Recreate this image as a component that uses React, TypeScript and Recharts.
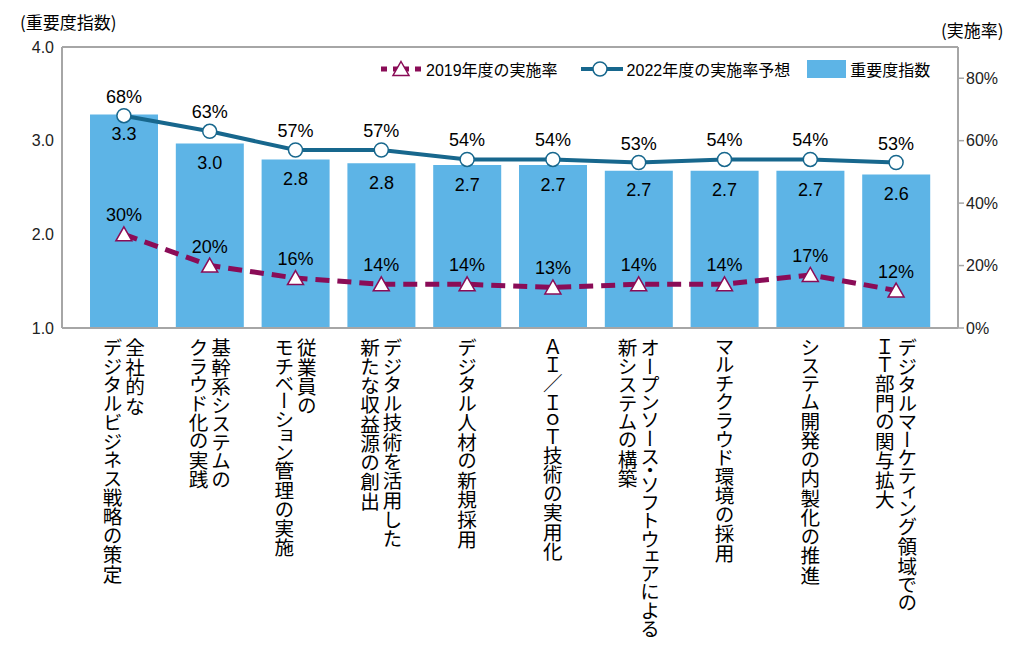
import React from 'react';
import {
  ComposedChart,
  Bar,
  Line,
  XAxis,
  YAxis,
  LabelList,
  Legend,
  ReferenceLine,
} from 'recharts';

// categories: lines of each vertical label, right column first
const categories = [
  '全社的な\nデジタルビジネス戦略の策定',
  '基幹系システムの\nクラウド化の実践',
  '従業員の\nモチベーション管理の実施',
  'デジタル技術を活用した\n新たな収益源の創出',
  'デジタル人材の新規採用',
  'ＡＩ／ＩｏＴ技術の実用化',
  'オープンソース・ソフトウェアによる\n新システムの構築',
  'マルチクラウド環境の採用',
  'システム開発の内製化の推進',
  'デジタルマーケティング領域での\nＩＴ部門の関与拡大',
];
const importance = [3.28, 2.97, 2.8, 2.76, 2.74, 2.74, 2.68, 2.68, 2.68, 2.64];
const rate2019 = [30, 20, 16, 14, 14, 13, 14, 14, 17, 12];
const rate2022 = [68, 63, 57, 57, 54, 54, 53, 54, 54, 53];
const leftTicks = [1, 2, 3, 4];
const rightTicks = [0, 20, 40, 60, 80];

const data = categories.map((name, i) => ({
  name,
  importance: importance[i],
  r2019: rate2019[i],
  r2022: rate2022[i],
}));

const BAR = '#5DB4E6';
const NAVY = '#17678D';
const PLUM = '#8A0C57';
const FRAME = '#A6A6A6';
const FONT = "'Liberation Sans', Arial, 'Noto Sans CJK JP', sans-serif";
const JP = "'Noto Sans CJK JP', sans-serif";

function CategoryTick(props: any) {
  const { x, y, payload } = props;
  const lines: string[] = String(payload.value).split('\n');
  const n = lines.length;
  return (
    <g>
      {lines.map((line, i) => (
        <text
          key={i}
          x={x + ((n - 1) * 22.5) / 2 - i * 22.5}
          y={y + 2}
          fontSize={19.6}
          fontFamily={JP}
          fill="#000"
          style={{ writingMode: 'vertical-rl', fontFeatureSettings: "'vpal'" } as any}
        >
          {line}
        </text>
      ))}
    </g>
  );
}

function TriangleDot(props: any) {
  const { cx, cy } = props;
  if (cx == null || cy == null) return null;
  return (
    <path
      d={`M${cx},${cy - 7.5} L${cx + 8},${cy + 6.5} L${cx - 8},${cy + 6.5} Z`}
      fill="#fff"
      stroke={PLUM}
      strokeWidth={1.5}
    />
  );
}

function CircleDot(props: any) {
  const { cx, cy } = props;
  if (cx == null || cy == null) return null;
  return <circle cx={cx} cy={cy} r={7} fill="#fff" stroke={NAVY} strokeWidth={1.5} />;
}

function LegendBox() {
  const text = { fontSize: 16, fontFamily: FONT, color: '#000', whiteSpace: 'nowrap' as const };
  return (
    <div style={{ display: 'flex', alignItems: 'center', height: 20 }}>
      <svg width={40} height={20}>
        <line x1={0} y1={10} x2={40} y2={10} stroke={PLUM} strokeWidth={5} strokeDasharray="6 6 16 6 6" />
        <path d="M20,2.5 L28,16.5 L12,16.5 Z" fill="#fff" stroke={PLUM} strokeWidth={1.5} />
      </svg>
      <span style={{ ...text, marginLeft: 5 }}>2019年度の実施率</span>
      <svg width={42} height={20} style={{ marginLeft: 23 }}>
        <line x1={0} y1={10} x2={42} y2={10} stroke={NAVY} strokeWidth={4} />
        <circle cx={19} cy={10} r={7} fill="#fff" stroke={NAVY} strokeWidth={1.5} />
      </svg>
      <span style={{ ...text, marginLeft: 4 }}>2022年度の実施率予想</span>
      <svg width={39} height={18} style={{ marginLeft: 17 }}>
        <rect x={0} y={0} width={39} height={18} fill={BAR} />
      </svg>
      <span style={{ ...text, marginLeft: 4 }}>重要度指数</span>
    </div>
  );
}

export default function App() {
  return (
    <div style={{ position: 'relative', width: 1030, height: 647, background: '#fff' }}>
      <style>{'body{margin:0}'}</style>
      <div
        style={{
          position: 'absolute',
          left: 20,
          top: 9,
          fontSize: 17,
          fontFamily: JP,
          color: '#000',
          zIndex: 2,
        }}
      >
        (重要度指数)
      </div>
      <div
        style={{
          position: 'absolute',
          left: 941,
          top: 17,
          fontSize: 17,
          fontFamily: JP,
          color: '#000',
          zIndex: 2,
        }}
      >
        (実施率)
      </div>
      <ComposedChart
        width={1030}
        height={647}
        data={data}
        margin={{ top: 47, right: 0, bottom: 0, left: 0 }}
        barCategoryGap="10.5%"
      >
        <XAxis
          dataKey="name"
          height={319}
          interval={0}
          padding={{ left: 19, right: 19 }}
          tickLine={false}
          axisLine={{ stroke: FRAME, strokeWidth: 2 }}
          tick={<CategoryTick />}
        />
        <YAxis
          yAxisId="left"
          width={62}
          domain={[1, 4]}
          ticks={leftTicks}
          tickFormatter={(v: number) => v.toFixed(1)}
          tickLine={false}
          axisLine={{ stroke: FRAME, strokeWidth: 2 }}
          tick={{ fontSize: 16, fontFamily: FONT, fill: '#222' }}
        />
        <YAxis
          yAxisId="right"
          orientation="right"
          width={72}
          domain={[0, 90]}
          ticks={rightTicks}
          tickFormatter={(v: number) => `${v}%`}
          tickLine={{ stroke: FRAME, strokeWidth: 1.5 }}
          axisLine={{ stroke: FRAME, strokeWidth: 2 }}
          tick={{ fontSize: 16, fontFamily: FONT, fill: '#222', textAnchor: 'start' }}
        />
        <ReferenceLine yAxisId="left" y={4} stroke={FRAME} strokeWidth={2} />
        <Legend
          layout="horizontal"
          verticalAlign="middle"
          align="center"
          wrapperStyle={{ top: 59, left: 381, width: 580 }}
          content={() => <LegendBox />}
        />
        <Bar yAxisId="left" dataKey="importance" fill={BAR} isAnimationActive={false}>
          <LabelList
            dataKey="importance"
            position="insideTop"
            offset={13}
            formatter={(v: any) => Number(v).toFixed(1)}
            style={{ fontSize: 18, fontFamily: FONT, fill: '#000' }}
          />
        </Bar>
        <Line
          yAxisId="right"
          dataKey="r2019"
          type="linear"
          stroke={PLUM}
          strokeWidth={5}
          strokeDasharray="14 8"
          dot={<TriangleDot />}
          activeDot={false}
          isAnimationActive={false}
        >
          <LabelList
            dataKey="r2019"
            position="top"
            offset={13}
            formatter={(v: any) => `${v}%`}
            style={{ fontSize: 18, fontFamily: FONT, fill: '#000' }}
          />
        </Line>
        <Line
          yAxisId="right"
          dataKey="r2022"
          type="linear"
          stroke={NAVY}
          strokeWidth={4}
          dot={<CircleDot />}
          activeDot={false}
          isAnimationActive={false}
        >
          <LabelList
            dataKey="r2022"
            position="top"
            offset={13}
            formatter={(v: any) => `${v}%`}
            style={{ fontSize: 18, fontFamily: FONT, fill: '#000' }}
          />
        </Line>
      </ComposedChart>
    </div>
  );
}
